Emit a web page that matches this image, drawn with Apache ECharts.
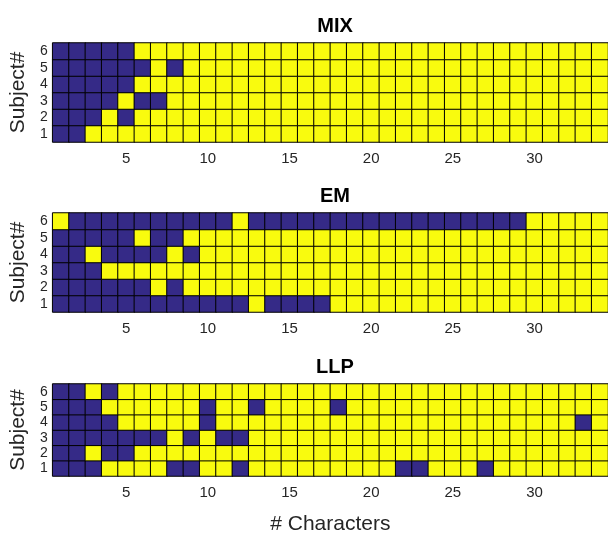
<!DOCTYPE html>
<html>
<head>
<meta charset="utf-8">
<script src="https://cdn.jsdelivr.net/npm/echarts@6/dist/echarts.min.js"></script>
<style>
  html, body { margin: 0; padding: 0; background: #fff; }
  #chart { width: 608px; height: 536px; }
</style>
</head>
<body>
<div id="chart"></div>
<script>
// 34 characters per subject, rows listed subject 1..6; 0 = dark, 1 = yellow
var characters = [];
for (var c = 1; c <= 34; c++) characters.push(String(c));
var subjects = ['1', '2', '3', '4', '5', '6'];
var panelTitles = ['MIX', 'EM', 'LLP'];

var mixRows = [
	'00111 11111 11111 11111 11111 11111 1111',
	'00010 11111 11111 11111 11111 11111 1111',
	'00001 00111 11111 11111 11111 11111 1111',
	'00000 11111 11111 11111 11111 11111 1111',
	'00000 01011 11111 11111 11111 11111 1111',
	'00000 11111 11111 11111 11111 11111 1111'
];
var emRows = [
	'00000 00000 00100 00111 11111 11111 1111',
	'00000 01011 11111 11111 11111 11111 1111',
	'00011 11111 11111 11111 11111 11111 1111',
	'00100 00101 11111 11111 11111 11111 1111',
	'00000 10011 11111 11111 11111 11111 1111',
	'10000 00000 01000 00000 00000 00001 1111'
];
var llpRows = [
	'00011 11001 10111 11111 10011 10111 1111',
	'00100 11111 11111 11111 11111 11111 1111',
	'00000 00101 00111 11111 11111 11111 1111',
	'00001 11110 11111 11111 11111 11111 1101',
	'00011 11110 11011 11011 11111 11111 1111',
	'00101 11111 11111 11111 11111 11111 1111'
];

function toCells(rows) {
	var out = [];
	for (var r = 0; r < rows.length; r++) {
		var s = rows[r].replace(/ /g, '');
		for (var i = 0; i < s.length; i++) out.push([i, r, parseInt(s[i])]);
	}
	return out;
}

var font = 'Liberation Sans, Arial, Helvetica, sans-serif';
var tops = [43, 213, 384];
var panels = [mixRows, emRows, llpRows];

var grids = [], xAxes = [], yAxes = [], series = [], titles = [];
panels.forEach(function(rows, k) {
	grids.push({ left: 52, top: tops[k], width: 557, height: 99, containLabel: false });
	titles.push({
		text: panelTitles[k], left: 330, top: tops[k] - 32, textAlign: 'center',
		textStyle: { fontFamily: font, fontSize: 20, fontWeight: 'bold', color: '#000' }
	});
	xAxes.push({
		type: 'category', gridIndex: k, data: characters,
		axisLine: { show: false }, axisTick: { show: false }, splitArea: { show: false },
		axisLabel: {
			interval: function(i) { return (i + 1) % 5 === 0; },
			fontFamily: font, fontSize: 15, color: '#262626', margin: 9
		},
		name: k === 2 ? '# Characters' : '', nameLocation: 'middle', nameGap: 38,
		nameTextStyle: { fontFamily: font, fontSize: 21, color: '#262626' }
	});
	yAxes.push({
		type: 'category', gridIndex: k, data: subjects,
		axisLine: { show: false }, axisTick: { show: false }, splitArea: { show: false },
		axisLabel: { interval: 0, fontFamily: font, fontSize: 14, color: '#262626', margin: 5, lineHeight: 14 },
		name: 'Subject#', nameLocation: 'middle', nameGap: 22, nameRotate: 90,
		nameTextStyle: { fontFamily: font, fontSize: 21, color: '#262626' }
	});
	series.push({
		type: 'heatmap', xAxisIndex: k, yAxisIndex: k, data: toCells(rows),
		itemStyle: { borderColor: '#000', borderWidth: 1 },
		emphasis: { disabled: true }
	});
});

var chart = echarts.init(document.getElementById('chart'));
chart.setOption({
	animation: false,
	backgroundColor: '#fff',
	title: titles,
	grid: grids,
	xAxis: xAxes,
	yAxis: yAxes,
	visualMap: {
		type: 'piecewise', show: false, seriesIndex: [0, 1, 2], dimension: 2,
		pieces: [{ value: 0, color: '#352a87' }, { value: 1, color: '#f9fb0e' }]
	},
	series: series
});
</script>
</body>
</html>
